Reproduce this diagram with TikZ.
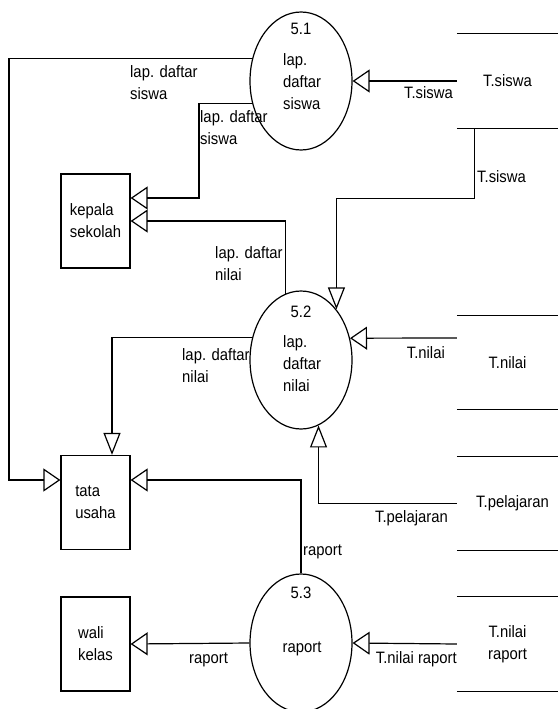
\documentclass[tikz,border=0pt]{standalone}
\usepackage{fontspec}
\setmainfont{Liberation Sans}[FakeStretch=0.9]
\usetikzlibrary{shapes.geometric,arrows.meta}
\newcommand{\dfdfont}{\fontsize{16.5}{22}\selectfont}

\begin{document}
\begin{tikzpicture}[x=1pt,y=-1pt,font=\dfdfont,
  proc/.style={draw,ellipse,line width=1.2pt,minimum width=102pt,minimum height=138pt,inner sep=0pt},
  ent/.style={draw,rectangle,line width=1.2pt,minimum width=69pt,minimum height=94pt,align=left,inner sep=0pt},
  store/.style={minimum width=101pt,minimum height=94pt,align=center,inner sep=0pt},
  hflow/.style={-{Triangle[open,length=17pt,width=23pt]},line width=1.2pt},
  vflow/.style={-{Triangle[open,length=22pt,width=17pt]},line width=1.2pt},
  lbl/.style={inner sep=0pt,align=left}]
\useasboundingbox (0,0) rectangle (558,709);

% processes
\node[proc] (p51) at (301,81) {};
\node[proc] (p52) at (301,360) {};
\node[proc] (p53) at (301,643) {};
\node[lbl,anchor=base] (n51) at (301,35) {5.1};
\node[lbl,anchor=north west] (t51) at (283,53.5) {lap.\\daftar\\siswa};
\node[lbl,anchor=base] (n52) at (301,317) {5.2};
\node[lbl,anchor=north west] (t52) at (283,335.5) {lap.\\daftar\\nilai};
\node[lbl,anchor=base] (n53) at (301,598) {5.3};
\node[lbl,anchor=base] (t53) at (302,652) {raport};

% entities
\node[ent] (ks) at (95.5,221) {kepala\\sekolah};
\node[ent] (tu) at (95.5,502.5) {tata\\usaha};
\node[ent] (wk) at (95.5,644) {wali\\kelas};

% data stores
\node[store] (ds1) at (507.5,81) {T.siswa};
\node[store] (ds2) at (507.5,362.5) {T.nilai};
\node[store] (ds3) at (507.5,503.5) {\hspace*{10pt}T.pelajaran};
\node[store] (ds4) at (507.5,644) {T.nilai\\raport};
\foreach \s in {ds1,ds2,ds3,ds4}
  \draw[line width=1.2pt] (\s.north west) -- (\s.north east)
    (\s.south west) -- (\s.south east);

\coordinate (lft) at (9,0);
\coordinate (v1) at (199,0);

% flows
\draw[hflow] (ds1.west) -- (p51.east);
\draw[hflow] (p51.155) -- (p51.155 -| lft) |- ([yshift=22.5pt]tu.west);
\draw[hflow] (p51.205) -- (p51.205 -| v1) |- ([yshift=23pt]ks.east);
\draw[hflow] (p52.103) |- (ks.east);
\draw[vflow] ([xshift=18pt]ds1.south west) -- ++(0,70) -| (p52.55.5);
\draw[hflow] ([yshift=24.5pt]ds2.west) -- (p52.24.4);
\draw[vflow] (p52.155.6) -| ([xshift=16.5pt]tu.north);
\draw[vflow] (ds3.west) -| (p52.285.4);
\draw[hflow] (p53.north) |- ([yshift=22.5pt]tu.east);
\draw[hflow] (ds4.west) -- (p53.east);
\draw[hflow] (p53.west) -- (wk.east);

% labels
\node[lbl,anchor=north west] (l1) at (130,65.5) {lap. daftar\\siswa};
\node[lbl,anchor=north west] (l2) at (200,110.5) {lap. daftar\\siswa};
\node[lbl,anchor=base east] (l3) at (453,98) {T.siswa};
\node[lbl,anchor=base west] (l4) at (477,182) {T.siswa};
\node[lbl,anchor=north west] (l5) at (215,246.5) {lap. daftar\\nilai};
\node[lbl,anchor=north west] (l6) at (182,348.5) {lap. daftar\\nilai};
\node[lbl,anchor=base east] (l7) at (445,358) {T.nilai};
\node[lbl,anchor=base east] (l8) at (448,522) {T.pelajaran};
\node[lbl,anchor=base west] (l9) at (303,555) {raport};
\node[lbl,anchor=base east] (l10) at (457,663) {T.nilai raport};
\node[lbl,anchor=base west] (l11) at (189,663) {raport};
\end{tikzpicture}
\end{document}
